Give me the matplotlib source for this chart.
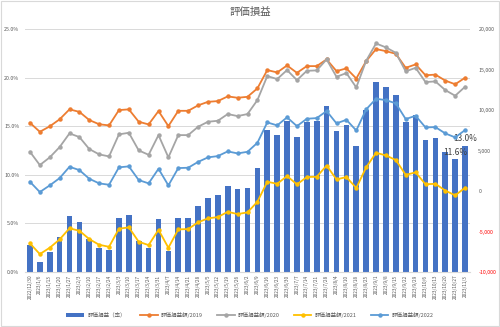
import matplotlib
matplotlib.use("Agg")
import matplotlib.pyplot as plt
import matplotlib.ticker as mticker
from matplotlib.patches import Rectangle

plt.rcParams['font.family'] = ['Noto Sans CJK JP', 'DejaVu Sans']

dates = ['2022/12/30', '2023/1/6', '2023/1/13', '2023/1/20', '2023/1/27', '2023/2/3',
         '2023/2/10', '2023/2/17', '2023/2/24', '2023/3/3', '2023/3/10', '2023/3/17',
         '2023/3/24', '2023/3/31', '2023/4/7', '2023/4/14', '2023/4/21', '2023/4/28',
         '2023/5/5', '2023/5/12', '2023/5/19', '2023/5/26', '2023/6/2', '2023/6/9',
         '2023/6/16', '2023/6/23', '2023/6/30', '2023/7/7', '2023/7/14', '2023/7/21',
         '2023/7/28', '2023/8/4', '2023/8/10', '2023/8/18', '2023/8/25', '2023/9/1',
         '2023/9/8', '2023/9/15', '2023/9/22', '2023/9/29', '2023/10/6', '2023/10/13',
         '2023/10/20', '2023/10/27', '2023/11/3']

# 評価損益（率） in %
rate = [2.8, 1.0, 2.1, 3.6, 5.8, 5.2, 3.4, 2.5, 2.3, 5.6, 5.9, 3.2,
        2.5, 5.5, 2.2, 5.6, 5.6, 6.8, 7.6, 7.9, 8.9, 8.5, 8.6, 10.7,
        14.6, 14.1, 15.5, 13.9, 15.4, 15.5, 17.1, 14.5, 15.1, 13.0, 16.7, 19.6,
        19.0, 18.2, 15.4, 16.2, 13.6, 13.8, 12.4, 11.6, 13.0]

# 評価損益額 (right axis)
y2019 = [8430, 7320, 7990, 8860, 10090, 9780, 8770, 8250, 8110, 10000, 10090, 8560,
         8230, 9880, 8020, 9910, 9910, 10580, 11020, 11110, 11690, 11520, 11640, 12680,
         14940, 14650, 15510, 14600, 15430, 15430, 16260, 14810, 15150, 13900, 16050, 17530,
         17280, 16950, 15220, 15640, 14300, 14380, 13640, 13190, 13990]
y2020 = [4850, 3210, 4160, 5430, 7120, 6670, 5190, 4530, 4280, 7000, 7200, 5020,
         4480, 6910, 4160, 6910, 6910, 7940, 8560, 8680, 9510, 9260, 9510, 11230,
         14200, 13830, 14940, 13700, 14850, 14900, 16260, 14110, 14570, 12800, 16090, 18230,
         17740, 17070, 14780, 15220, 13460, 13540, 12470, 11770, 12880]
y2021 = [-6460, -7780, -7000, -5970, -4600, -4900, -5930, -6630, -6880, -4650, -4480, -6260,
         -6670, -4780, -7000, -4730, -4690, -3860, -3370, -3210, -2560, -2840, -2630, -1320,
         1150, 900, 1850, 830, 1730, 1770, 3150, 1440, 1730, 380, 2930, 4730,
         4400, 3830, 2000, 2310, 840, 900, 60, -530, 410]
y2022 = [1150, -120, 700, 1600, 3000, 2590, 1520, 950, 780, 2930, 3050, 1360,
         950, 2750, 700, 2840, 2880, 3600, 4160, 4320, 4900, 4650, 4850, 5960,
         8480, 8110, 9100, 8020, 8930, 9010, 9880, 8360, 8800, 7480, 10090, 11400,
         11230, 10830, 8890, 9300, 7860, 7900, 7120, 6630, 7530]

series = [('評価損益額/2019', y2019, '#ED7D31'),
          ('評価損益額/2020', y2020, '#A5A5A5'),
          ('評価損益額/2021', y2021, '#FFC000'),
          ('評価損益額/2022', y2022, '#5B9BD5')]

fig = plt.figure(figsize=(5, 3.27), dpi=100)
ax = fig.add_axes([0.05, 0.168, 0.89, 0.743])
ax2 = ax.twinx()

x = list(range(len(dates)))
bars = ax.bar(x, rate, width=0.58, color='#4472C4', label='評価損益（率）', zorder=2)
ax.set_ylim(0, 25)
ax.set_yticks([0, 5, 10, 15, 20, 25])
ax.yaxis.set_major_formatter(mticker.FuncFormatter(lambda v, p: '%.1f%%' % v))
ax.set_xlim(-0.5, len(dates) - 0.5)
ax.set_xticks(x)
ax.set_xticklabels(dates, rotation=90, fontsize=3.4, color='#595959')
ax.grid(axis='y', color='#D9D9D9', linewidth=0.7, zorder=0)
ax.set_axisbelow(True)
ax.tick_params(axis='both', length=0, pad=2)
ax.tick_params(axis='y', labelsize=3.8, labelcolor='#595959', pad=4)
for s in ax.spines.values():
    s.set_visible(False)
ax.spines['bottom'].set_visible(True)
ax.spines['bottom'].set_color('#D9D9D9')

handles = [bars]
for name, vals, col in series:
    ln, = ax2.plot(x, vals, color=col, linewidth=1.3, marker='o', markersize=2.2,
                   label=name, zorder=3)
    handles.append(ln)

ax2.set_ylim(-10000, 20000)
ax2.set_yticks(range(-10000, 20001, 5000))
ax2.set_yticklabels(['{:,}'.format(v) for v in range(-10000, 20001, 5000)])
ax2.tick_params(axis='y', length=0, labelsize=3.8, pad=6)
for lab, v in zip(ax2.get_yticklabels(), range(-10000, 20001, 5000)):
    lab.set_color('#FF0000' if v < 0 else '#595959')
for s in ax2.spines.values():
    s.set_visible(False)

# data labels on the last two bars
for i in [len(rate) - 2, len(rate) - 1]:
    ax.annotate('%.1f%%' % rate[i], (x[i], rate[i]), xytext=(0, 2),
                textcoords='offset points', ha='center', va='bottom',
                fontsize=6, color='#404040', zorder=5)

fig.text(0.5, 0.962, '評価損益', ha='center', va='center', fontsize=7.5, color='#595959')

fig.legend(handles=handles, labels=[h.get_label() for h in handles], loc='center',
           bbox_to_anchor=(0.5, 0.037), ncol=5, frameon=False, fontsize=4,
           handlelength=3.2, columnspacing=2.5, handletextpad=0.6,
           labelcolor='#595959')

fig.patches.append(Rectangle((0.002, 0.003), 0.996, 0.994, transform=fig.transFigure,
                             fill=False, edgecolor='#D9D9D9', linewidth=0.8))

fig.savefig('out.png', dpi=100)
